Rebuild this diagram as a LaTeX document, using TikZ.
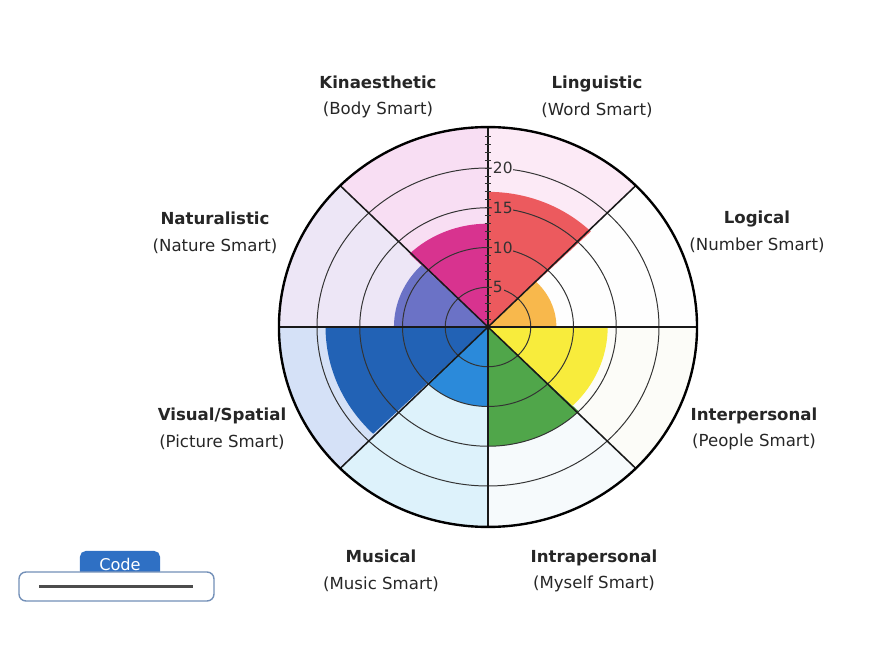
\documentclass[tikz,border=0pt]{standalone}
\usepackage{fontspec}
\setmainfont{DejaVu Sans}
\usepackage{tikz}
\usetikzlibrary{positioning}

\definecolor{lingtint}{HTML}{FCEAF6}
\definecolor{kintint}{HTML}{F8DEF3}
\definecolor{nattint}{HTML}{EDE6F6}
\definecolor{vistint}{HTML}{D5E1F7}
\definecolor{mustint}{HTML}{DDF2FB}
\definecolor{intratint}{HTML}{F6FAFC}
\definecolor{intertint}{HTML}{FCFCF8}
\definecolor{logictint}{HTML}{FEFEFE}
\definecolor{lingcol}{HTML}{EC5A5E}
\definecolor{kincol}{HTML}{D8338F}
\definecolor{natcol}{HTML}{6B72C6}
\definecolor{viscol}{HTML}{2262B5}
\definecolor{muscol}{HTML}{2B8ADA}
\definecolor{intracol}{HTML}{50A64A}
\definecolor{intercol}{HTML}{F8EC3C}
\definecolor{logiccol}{HTML}{F8B84C}
\definecolor{codeblue}{HTML}{2F70C4}
\definecolor{codeedge}{HTML}{7390B8}

\begin{document}
\begin{tikzpicture}[x=0.025cm, y=0.025cm,
    ring/.style={draw=black!80, line width=0.7pt},
    spoke/.style={draw=black!90, line width=1.1pt},
    rim/.style={draw=black, line width=1.7pt},
    tick/.style={draw=black!80, line width=0.6pt},
    num/.style={anchor=west, inner sep=0.6pt, text=black!80, font=\fontsize{11}{12}\selectfont},
    lbl/.style={align=center, text=black!85, font=\fontsize{11.8}{19}\selectfont},
    codetab/.style={fill=codeblue, text=white, rounded corners=4pt, minimum width=2cm, minimum height=0.65cm, inner sep=0pt, font=\fontsize{11.5}{12}\selectfont},
    codebox/.style={draw=codeedge, fill=white, line width=1pt, rounded corners=5pt, minimum width=4.875cm, minimum height=0.725cm, inner sep=0pt}]
    \useasboundingbox (-488,-325) rectangle (402,327);

    \begin{scope}[x={(8.55,0)}, y={(0,7.95)}]
        \def\rx{24.45}
        \def\ry{25.15}
        % background of each sector
        \fill[lingtint] (0,0) -- ({\rx*cos(45)},{\ry*sin(45)}) arc[start angle=45, end angle=90, x radius=\rx, y radius=\ry] -- cycle;
        \fill[kintint] (0,0) -- ({\rx*cos(90)},{\ry*sin(90)}) arc[start angle=90, end angle=135, x radius=\rx, y radius=\ry] -- cycle;
        \fill[nattint] (0,0) -- ({\rx*cos(135)},{\ry*sin(135)}) arc[start angle=135, end angle=180, x radius=\rx, y radius=\ry] -- cycle;
        \fill[vistint] (0,0) -- ({\rx*cos(180)},{\ry*sin(180)}) arc[start angle=180, end angle=225, x radius=\rx, y radius=\ry] -- cycle;
        \fill[mustint] (0,0) -- ({\rx*cos(225)},{\ry*sin(225)}) arc[start angle=225, end angle=270, x radius=\rx, y radius=\ry] -- cycle;
        \fill[intratint] (0,0) -- ({\rx*cos(270)},{\ry*sin(270)}) arc[start angle=270, end angle=315, x radius=\rx, y radius=\ry] -- cycle;
        \fill[intertint] (0,0) -- ({\rx*cos(315)},{\ry*sin(315)}) arc[start angle=315, end angle=360, x radius=\rx, y radius=\ry] -- cycle;
        \fill[logictint] (0,0) -- ({\rx*cos(0)},{\ry*sin(0)}) arc[start angle=0, end angle=45, x radius=\rx, y radius=\ry] -- cycle;

        % scores
        \fill[lingcol] (0,0) -- (45:17) arc[start angle=45, end angle=90, radius=17] -- cycle;
        \fill[kincol] (0,0) -- (90:13) arc[start angle=90, end angle=135, radius=13] -- cycle;
        \fill[natcol] (0,0) -- (135:11) arc[start angle=135, end angle=180, radius=11] -- cycle;
        \fill[viscol] (0,0) -- (180:19) arc[start angle=180, end angle=225, radius=19] -- cycle;
        \fill[muscol] (0,0) -- (225:10) arc[start angle=225, end angle=270, radius=10] -- cycle;
        \fill[intracol] (0,0) -- (270:15) arc[start angle=270, end angle=315, radius=15] -- cycle;
        \fill[intercol] (0,0) -- (315:14) arc[start angle=315, end angle=360, radius=14] -- cycle;
        \fill[logiccol] (0,0) -- (0:8) arc[start angle=0, end angle=45, radius=8] -- cycle;

        \draw[ring] (0,0) circle[radius=5];
        \draw[ring] (0,0) circle[radius=10];
        \draw[ring] (0,0) circle[radius=15];
        \draw[ring] (0,0) circle[radius=20];

        \draw[spoke] (0,-\ry) -- (0,\ry);
        \draw[spoke] (-\rx,0) -- (\rx,0);
        \draw[spoke] ({\rx*cos(45)},{\ry*sin(45)}) -- ({\rx*cos(225)},{\ry*sin(225)});
        \draw[spoke] ({\rx*cos(135)},{\ry*sin(135)}) -- ({\rx*cos(315)},{\ry*sin(315)});
        \draw[rim] (0,0) ellipse[x radius=\rx, y radius=\ry];

        \foreach \t in {1,...,24}
            \draw[tick] (-0.36,\t) -- (0.36,\t);

        \node[num, fill=lingcol] (n5) at (0.45,5) {5};
        \node[num, fill=lingcol] (n10) at (0.45,10) {10};
        \node[num, fill=lingcol] (n15) at (0.45,15) {15};
        \node[num, fill=lingtint] (n20) at (0.45,20) {20};
    \end{scope}

    \node[lbl] (kin) at (-110,230) {\textbf{Kinaesthetic}\\(Body Smart)};
    \node[lbl] (ling) at (109,230) {\textbf{Linguistic}\\(Word Smart)};
    \node[lbl] (nat) at (-273,94) {\textbf{Naturalistic}\\(Nature Smart)};
    \node[lbl] (logic) at (269,95) {\textbf{Logical}\\(Number Smart)};
    \node[lbl] (vis) at (-266,-102) {\textbf{Visual/Spatial}\\(Picture Smart)};
    \node[lbl] (inter) at (266,-102) {\textbf{Interpersonal}\\(People Smart)};
    \node[lbl] (mus) at (-107,-244) {\textbf{Musical}\\(Music Smart)};
    \node[lbl] (intra) at (106,-244) {\textbf{Intrapersonal}\\(Myself Smart)};

    \node[codetab] (code) at (-368,-237) {Code};
    \node[codebox] (codebox) at (-371.5,-259.5) {};
    \draw[black!70, line width=1.8pt] ([xshift=0.53cm]codebox.west) -- ([xshift=-0.55cm]codebox.east);
\end{tikzpicture}
\end{document}
